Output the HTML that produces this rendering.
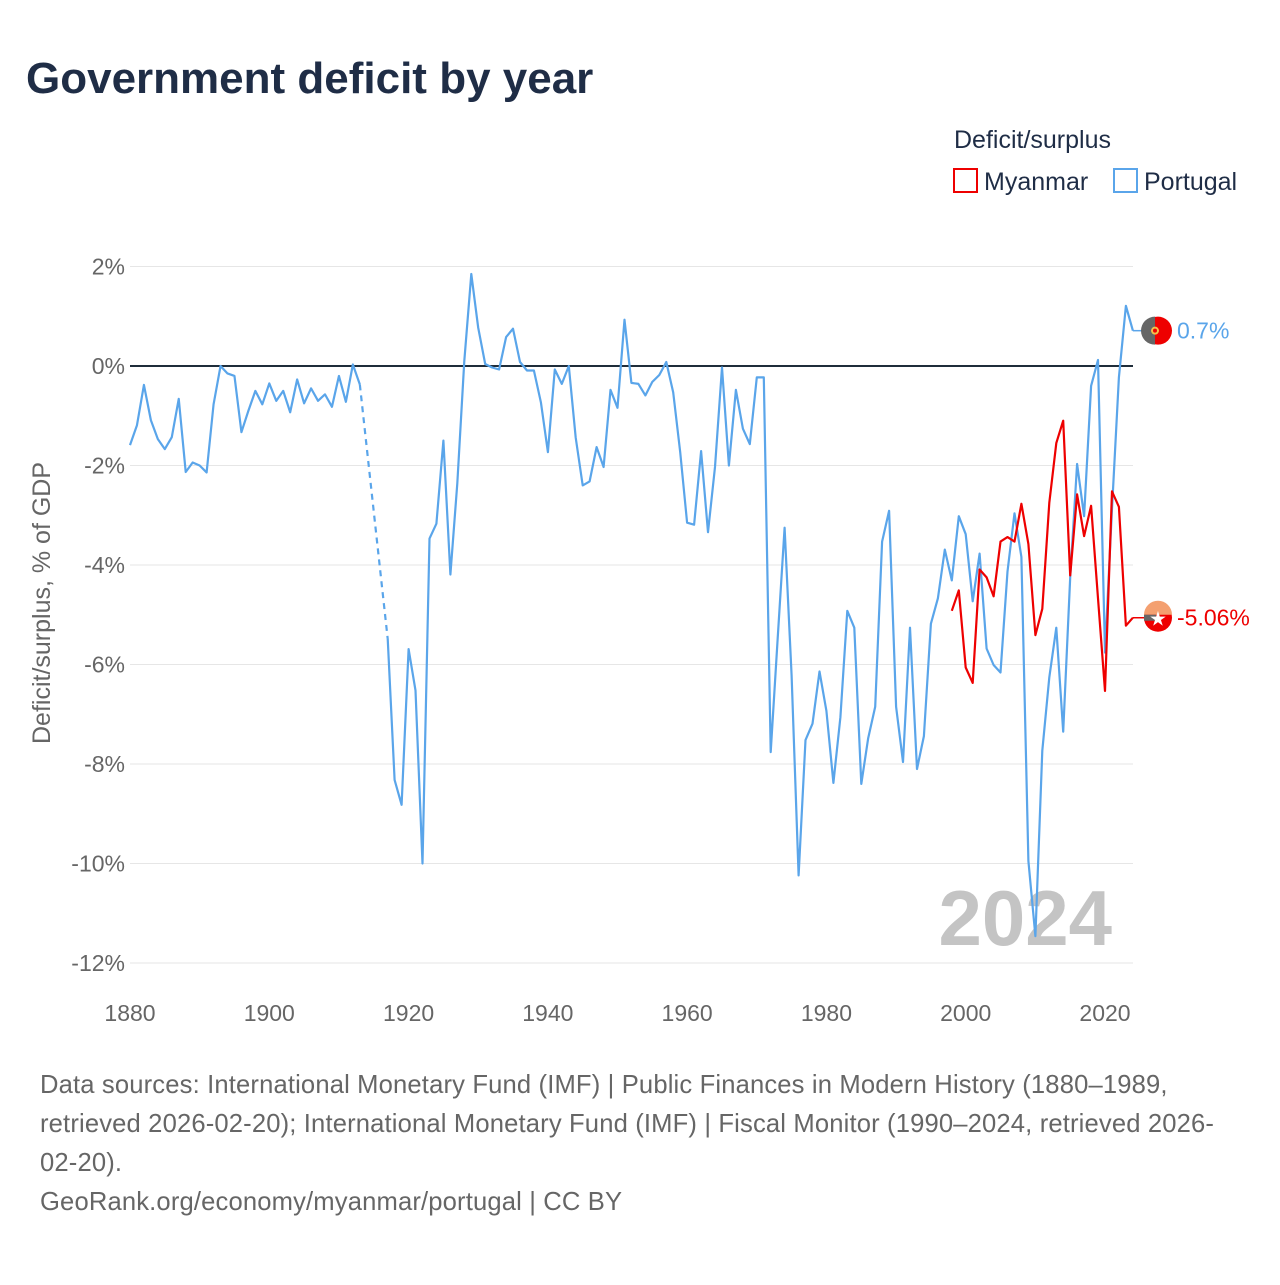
<!DOCTYPE html>
<html><head><meta charset="utf-8"><style>
body{margin:0;background:#fff;font-family:"Liberation Sans",sans-serif}
svg text{font-family:"Liberation Sans",sans-serif}
</style></head><body>
<svg width="1280" height="1280" viewBox="0 0 1280 1280">
<text x="26" y="93" font-size="44" font-weight="bold" fill="#1f2d46">Government deficit by year</text>
<text x="954" y="148" font-size="25" fill="#1f2d46">Deficit/surplus</text>
<g><rect x="954" y="169" width="23" height="23" fill="none" stroke="#ee0000" stroke-width="2"/><text x="984" y="190" font-size="25" fill="#1f2d46">Myanmar</text></g>
<g><rect x="1114" y="169" width="23" height="23" fill="none" stroke="#5aa5ea" stroke-width="2"/><text x="1144" y="190" font-size="25" fill="#1f2d46">Portugal</text></g>
<g id="grid"></g>
<g id="xticks"></g>
<text transform="translate(50,603) rotate(-90)" text-anchor="middle" font-size="25" fill="#666">Deficit/surplus, % of GDP</text>
<text x="1112" y="945" text-anchor="end" font-size="78" font-weight="bold" fill="#c4c4c4">2024</text>
<g id="series"></g>
<g id="markers"></g>
<g font-size="25.6" fill="#666" letter-spacing="0.15">
<text x="40" y="1093">Data sources: International Monetary Fund (IMF) | Public Finances in Modern History (1880–1989,</text>
<text x="40" y="1132">retrieved 2026-02-20); International Monetary Fund (IMF) | Fiscal Monitor (1990–2024, retrieved 2026-</text>
<text x="40" y="1171">02-20).</text>
<text x="40" y="1210">GeoRank.org/economy/myanmar/portugal | CC BY</text>
</g>
</svg>
<script>
const yTicks=[2,0,-2,-4,-6,-8,-10,-12];
const xTicks=[1880,1900,1920,1940,1960,1980,2000,2020];
const portugalYears1=[1880,1881,1882,1883,1884,1885,1886,1887,1888,1889,1890,1891,1892,1893,1894,1895,1896,1897,1898,1899,1900,1901,1902,1903,1904,1905,1906,1907,1908,1909,1910,1911,1912,1913];
const portugalValues1=[-1.59,-1.19,-0.38,-1.09,-1.47,-1.67,-1.43,-0.66,-2.13,-1.94,-2.0,-2.14,-0.77,0.0,-0.15,-0.2,-1.33,-0.9,-0.5,-0.77,-0.35,-0.7,-0.5,-0.93,-0.27,-0.75,-0.45,-0.7,-0.57,-0.82,-0.2,-0.72,0.03,-0.37];
const portugalStartYear2=1917;
const portugalValues2=[-5.48,-8.32,-8.82,-5.69,-6.52,-10.0,-3.47,-3.17,-1.5,-4.19,-2.36,0.1,1.85,0.77,0.04,-0.03,-0.07,0.58,0.75,0.08,-0.09,-0.09,-0.73,-1.73,-0.07,-0.36,0,-1.44,-2.4,-2.32,-1.63,-2.03,-0.48,-0.84,0.93,-0.34,-0.36,-0.59,-0.32,-0.18,0.08,-0.53,-1.73,-3.15,-3.19,-1.71,-3.34,-2.03,-0.03,-2.0,-0.48,-1.26,-1.57,-0.23,-0.23,-7.76,-5.47,-3.25,-6.22,-10.24,-7.52,-7.19,-6.14,-6.93,-8.38,-7.06,-4.92,-5.26,-8.4,-7.48,-6.85,-3.53,-2.91,-6.85,-7.96,-5.26,-8.1,-7.44,-5.18,-4.67,-3.69,-4.31,-3.02,-3.38,-4.73,-3.77,-5.68,-6.01,-6.16,-4.13,-2.96,-3.84,-9.95,-11.46,-7.73,-6.26,-5.26,-7.35,-4.25,-1.97,-3.02,-0.4,0.12,-5.76,-2.87,-0.23,1.21,0.71];
const myanmarStartYear=1998;
const myanmarValues=[-4.92,-4.51,-6.06,-6.37,-4.09,-4.25,-4.63,-3.53,-3.44,-3.53,-2.77,-3.58,-5.41,-4.88,-2.75,-1.55,-1.1,-4.21,-2.58,-3.42,-2.81,-4.67,-6.53,-2.52,-2.83,-5.22,-5.06];
const labels=["0.7%","-5.06%"];

const X=y=>130+(y-1880)*975/140;
const Y=v=>366-v*49.75;
const NS="http://www.w3.org/2000/svg";
function mk(tag,attrs,parent){const e=document.createElementNS(NS,tag);for(const k in attrs)e.setAttribute(k,attrs[k]);parent.appendChild(e);return e;}
const grid=document.getElementById('grid');
yTicks.forEach(t=>{
  const l=mk('line',{x1:130,x2:1133,y1:Y(t),y2:Y(t),stroke:t===0?'#1f2d3a':'#e6e6e6','stroke-width':t===0?2:1},grid);
  
  
  const tx=mk('text',{x:125,y:Y(t)+8,'text-anchor':'end','font-size':23,fill:'#666'},grid);
  tx.textContent=t+'%';
  
  
});
const xt=document.getElementById('xticks');
xTicks.forEach(t=>{
  const tx=mk('text',{x:X(t),y:1021,'text-anchor':'middle','font-size':23,fill:'#666'},xt);
  tx.textContent=t;
  
  
});
const s=document.getElementById('series');
function pts(start,vals){return vals.map((v,i)=>X(start+i).toFixed(1)+','+Y(v).toFixed(1)).join(' ');}
const p1=mk('polyline',{points:portugalYears1.map((y,i)=>X(y)+','+Y(portugalValues1[i])).join(' '),fill:'none',stroke:'#5aa5ea','stroke-width':2.2,'stroke-linejoin':'round'},s);


const lastY=portugalYears1[portugalYears1.length-1],lastV=portugalValues1[portugalValues1.length-1];
const pd=mk('line',{x1:X(lastY),y1:Y(lastV),x2:X(portugalStartYear2),y2:Y(portugalValues2[0]),stroke:'#5aa5ea','stroke-width':2.2,'stroke-dasharray':'6,5'},s);


const p2=mk('polyline',{points:pts(portugalStartYear2,portugalValues2),fill:'none',stroke:'#5aa5ea','stroke-width':2.2,'stroke-linejoin':'round'},s);


const m=mk('polyline',{points:pts(myanmarStartYear,myanmarValues),fill:'none',stroke:'#ee0000','stroke-width':2.2,'stroke-linejoin':'round'},s);



const mg=document.getElementById('markers');
const pEndV=portugalValues2[portugalValues2.length-1], pEndX=X(portugalStartYear2+portugalValues2.length-1);
const mEndV=myanmarValues[myanmarValues.length-1], mEndX=X(myanmarStartYear+myanmarValues.length-1);
const mx=1158;
[[pEndX,pEndV,'#5aa5ea',labels[0],'portugal'],[mEndX,mEndV,'#ee0000',labels[1],'myanmar']].forEach(([ex,v,c,lab,nm])=>{
  const yy=Y(v);
  mk('line',{x1:ex,y1:yy,x2:mx-14,y2:yy,stroke:c,'stroke-width':1.5},mg);
  const g=mk('g',{},mg);
  
  
  mk('circle',{cx:mx,cy:yy,r:14,fill:'#e00'},g);
  if(nm==='portugal'){
    mk('path',{d:`M${mx-3},${yy-14} A14,14 0 0 0 ${mx-3},${yy+14} Z`,fill:'#666'},g);
    mk('circle',{cx:mx-3,cy:yy,r:4,fill:'#f5c04a'},g);
    mk('circle',{cx:mx-3,cy:yy,r:2,fill:'#e00'},g);
  }else{
    mk('path',{d:`M${mx-14},${yy-3} A14,14 0 0 1 ${mx+14},${yy-3} Z`,fill:'#f4a070'},g);
    mk('rect',{x:mx-14,y:yy-3,width:12,height:6,fill:'#666'},g);
    mk('text',{x:mx,y:yy+8,'text-anchor':'middle','font-size':20,fill:'#fff'},g).textContent='★';
  }
  const t=mk('text',{x:mx+19,y:yy+8,'font-size':23,fill:c},mg);
  t.textContent=lab;
  
  
});
</script>
</body></html>
